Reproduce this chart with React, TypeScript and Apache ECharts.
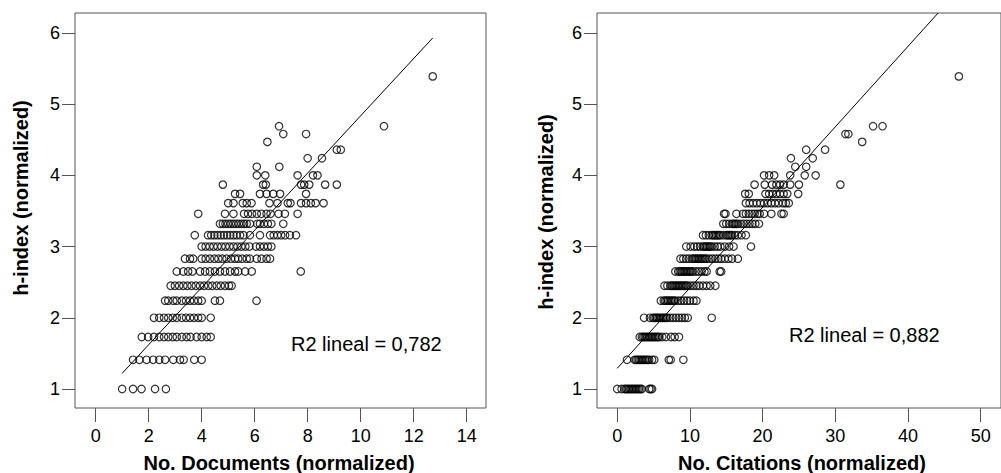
import React, { useEffect, useRef } from "react";
import * as echarts from "echarts";

// h-index (normalized) levels, shared by both panels
const hLevels = [1, 1.41, 1.73, 2, 2.24, 2.45, 2.65, 2.83, 3, 3.16, 3.32, 3.46, 3.61, 3.74, 3.87, 4, 4.12, 4.24, 4.36, 4.47, 4.58, 4.69, 5.39];

// No. Documents (normalized) of points at each h-index level (same order as hLevels)
const docsRows: number[][] = [
  [1.0, 1.41, 1.73, 2.24, 2.65],
  [1.41, 1.65, 1.92, 2.17, 2.4, 2.62, 2.93, 3.18, 3.32, 3.72, 4.0],
  [1.74, 1.98, 2.2, 2.4, 2.58, 2.74, 2.91, 3.06, 3.25, 3.43, 3.58, 3.81, 4.0, 4.19, 4.34],
  [2.2, 2.4, 2.58, 2.74, 2.91, 3.06, 3.25, 3.41, 3.56, 3.71, 3.87, 4.0, 4.34],
  [2.62, 2.74, 2.93, 3.06, 3.25, 3.41, 3.56, 3.71, 3.87, 4.0, 4.5, 4.69, 6.07],
  [2.83, 2.99, 3.15, 3.31, 3.46, 3.62, 3.78, 3.94, 4.09, 4.25, 4.4, 4.57, 4.72, 4.88, 5.03, 5.13],
  [3.06, 3.31, 3.49, 3.65, 3.94, 4.13, 4.31, 4.5, 4.69, 4.88, 5.07, 5.26, 5.38, 5.64, 5.89, 7.74],
  [3.37, 3.56, 3.68, 4.0, 4.15, 4.31, 4.48, 4.63, 4.78, 4.94, 5.11, 5.26, 5.38, 5.53, 5.7, 5.82, 6.08, 6.26, 6.45, 6.58],
  [4.0, 4.15, 4.3, 4.45, 4.6, 4.75, 4.9, 5.05, 5.2, 5.35, 5.5, 5.65, 5.8, 6.05, 6.2, 6.35, 6.5, 6.63],
  [3.74, 4.24, 4.36, 4.48, 4.6, 4.72, 4.84, 4.96, 5.08, 5.2, 5.32, 5.45, 5.58, 5.82, 6.2, 6.58, 6.72, 6.86, 7.0, 7.15, 7.33, 7.56],
  [4.69, 4.8, 4.9, 5.0, 5.1, 5.2, 5.3, 5.4, 5.5, 5.6, 5.7, 5.82, 6.1, 6.2, 6.35, 6.5, 6.63, 7.08],
  [3.87, 4.88, 5.2, 5.6, 5.75, 5.9, 6.08, 6.25, 6.45, 6.6, 6.9, 7.14, 7.62],
  [5.0, 5.2, 5.55, 5.7, 5.88, 6.56, 6.86, 7.25, 7.35, 7.75, 7.94, 8.12, 8.3, 8.6],
  [5.26, 5.45, 6.2, 6.45, 6.7, 6.96, 7.94],
  [4.8, 6.32, 6.42, 7.75, 7.87, 8.06, 8.66, 9.1],
  [6.08, 6.4, 7.62, 8.2, 8.37],
  [6.08, 6.93],
  [8.0, 8.54],
  [9.1, 9.25],
  [6.48],
  [7.08, 7.94],
  [6.92, 10.88],
  [12.72],
];

// No. Citations (normalized) of points at each h-index level
const citesRows: number[][] = [
  [0, 0.6, 1.0, 1.2, 1.4, 1.6, 1.8, 2.0, 2.2, 2.4, 2.6, 2.8, 3.0, 3.2, 3.4, 4.4, 4.6, 4.8],
  [1.35, 2.4, 2.6, 2.8, 3.0, 3.2, 3.4, 3.6, 3.8, 4.0, 4.2, 4.4, 4.8, 5.1, 7.1, 7.35, 9.1],
  [3.1, 3.4, 3.6, 3.8, 4.0, 4.2, 4.4, 4.6, 4.8, 5.0, 5.2, 5.4, 5.6, 5.8, 6.2, 6.7, 7.4, 7.9, 8.5],
  [3.7, 4.5, 4.9, 5.1, 5.3, 5.5, 5.7, 5.9, 6.1, 6.3, 6.5, 6.7, 6.9, 7.3, 7.7, 8.1, 8.5, 8.9, 9.3, 9.7, 13.0],
  [6.0, 6.4, 6.6, 6.8, 7.0, 7.2, 7.4, 7.6, 7.8, 8.0, 8.4, 8.8, 9.2, 9.6, 10.0, 10.5, 10.9],
  [6.5, 6.9, 7.3, 7.5, 7.7, 7.9, 8.1, 8.3, 8.5, 8.7, 8.9, 9.1, 9.3, 9.5, 9.7, 10.1, 10.5, 10.9, 11.3, 11.8, 12.3, 12.8, 13.5],
  [8.0, 8.4, 8.6, 8.8, 9.0, 9.2, 9.4, 9.6, 9.8, 10.0, 10.2, 10.4, 10.8, 11.2, 11.6, 12.0, 12.3, 14.1, 14.3],
  [8.7, 9.1, 9.5, 9.9, 10.3, 10.5, 10.7, 10.9, 11.1, 11.3, 11.5, 11.7, 11.9, 12.1, 12.3, 12.7, 13.1, 13.5, 13.9, 14.3, 14.8, 15.3, 15.8, 16.6],
  [9.5, 10.1, 10.6, 11.0, 11.4, 11.8, 12.0, 12.2, 12.4, 12.6, 12.8, 13.0, 13.4, 13.8, 14.2, 14.8, 15.4, 16.0, 18.4],
  [11.8, 12.2, 12.6, 13.0, 13.2, 13.4, 13.6, 13.8, 14.0, 14.2, 14.6, 15.0, 15.2, 15.4, 15.6, 15.8, 16.2, 16.6, 17.1, 17.7],
  [14.6, 15.0, 15.4, 15.8, 16.0, 16.2, 16.4, 16.6, 17.0, 17.4, 17.8, 18.2, 18.6, 19.0, 19.5],
  [14.7, 14.9, 16.4, 17.3, 17.7, 18.1, 18.5, 18.9, 19.3, 19.6, 20.2, 21.2, 22.6, 22.9],
  [17.7, 18.2, 18.7, 19.2, 19.7, 20.2, 20.7, 21.2, 21.7, 22.2, 22.8, 23.2, 23.6],
  [17.6, 18.1, 20.4, 20.9, 21.4, 21.9, 22.4, 22.9, 23.4, 24.9],
  [18.9, 20.3, 21.3, 21.9, 22.4, 22.9, 23.8, 25.0, 30.7],
  [20.2, 20.9, 21.6, 23.8, 25.8, 27.3],
  [24.5, 26.0],
  [23.9, 26.9],
  [26.0, 28.6],
  [33.7],
  [31.4, 31.8],
  [35.2, 36.5],
  [47.0],
];

// fitted linear regression lines (end points)
const docsFit = [[1.0, 1.22], [12.72, 5.93]];
const citesFit = [[0, 1.29], [44.15, 6.28]];

const docsTicks = [0, 2, 4, 6, 8, 10, 12, 14];
const citesTicks = [0, 10, 20, 30, 40, 50];
const hTicks = [1, 2, 3, 4, 5, 6];

const docsR2 = "R2 lineal = 0,782";
const citesR2 = "R2 lineal = 0,882";

const FONT = 'Arial, "Liberation Sans", sans-serif';
const FRAME = "#555";

function toPoints(rows: number[][]) {
  const pts: number[][] = [];
  rows.forEach((xs, i) => xs.forEach((x) => pts.push([x, hLevels[i]])));
  return pts;
}

export default function App() {
  const ref = useRef<HTMLDivElement>(null);
  useEffect(() => {
    document.body.style.margin = "0";
    if (!ref.current) return;
    const chart = echarts.init(ref.current, undefined, { renderer: "svg" });
    const xAxisBase = (min: number, max: number, ticks: number[], idx: number) => ({
      type: "value",
      gridIndex: idx,
      min,
      max,
      position: "bottom",
      splitLine: { show: false },
      axisLine: { show: false, onZero: false },
      axisTick: { show: true, inside: false, length: 14, customValues: ticks, lineStyle: { color: FRAME, width: 1 } },
      axisLabel: { customValues: ticks, margin: 19, fontSize: 18, color: "#000", fontFamily: FONT },
    });
    const yAxisBase = (idx: number) => ({
      type: "value",
      gridIndex: idx,
      min: 0.733,
      max: 6.28,
      position: "left",
      splitLine: { show: false },
      axisLine: { show: false, onZero: false },
      axisTick: { show: true, inside: false, length: 13, customValues: hTicks, lineStyle: { color: FRAME, width: 1 } },
      axisLabel: { customValues: hTicks, margin: 15, fontSize: 18, color: "#000", fontFamily: FONT },
    });
    const scatterStyle = {
      type: "scatter",
      symbol: "circle",
      symbolSize: 7.5,
      silent: true,
      itemStyle: { color: "rgba(0,0,0,0)", borderColor: "#000", borderWidth: 1.2 },
    };
    const lineStyle = {
      type: "line",
      symbol: "none",
      showSymbol: false,
      silent: true,
      lineStyle: { color: "#000", width: 1 },
    };
    const titleText = (text: string, x: number, y: number, rot = 0, bold = true) => ({
      type: "text",
      x,
      y,
      rotation: rot,
      silent: true,
      style: {
        text,
        fill: "#000",
        fontSize: 20,
        fontWeight: bold ? "bold" : "normal",
        fontFamily: FONT,
        textAlign: "center",
        textVerticalAlign: "middle",
        align: "center",
        verticalAlign: "middle",
      },
    });
    const r2Text = (text: string, x: number, y: number) => ({
      type: "text",
      x,
      y,
      silent: true,
      style: {
        text,
        fill: "#000",
        fontSize: 20,
        fontFamily: FONT,
        textAlign: "left",
        textVerticalAlign: "middle",
        align: "left",
        verticalAlign: "middle",
      },
    });
    chart.setOption({
      animation: false,
      grid: [
        { left: 75, top: 13, width: 411, height: 395, show: true, borderColor: FRAME, borderWidth: 1, backgroundColor: "transparent" },
        { left: 597, top: 13, width: 411, height: 395, show: true, borderColor: FRAME, borderWidth: 1, backgroundColor: "transparent" },
      ],
      xAxis: [xAxisBase(-0.78, 14.73, docsTicks, 0), xAxisBase(-2.78, 52.8, citesTicks, 1)],
      yAxis: [yAxisBase(0), yAxisBase(1)],
      series: [
        { ...scatterStyle, xAxisIndex: 0, yAxisIndex: 0, data: toPoints(docsRows) },
        { ...lineStyle, xAxisIndex: 0, yAxisIndex: 0, data: docsFit },
        { ...scatterStyle, xAxisIndex: 1, yAxisIndex: 1, data: toPoints(citesRows) },
        { ...lineStyle, xAxisIndex: 1, yAxisIndex: 1, data: citesFit },
      ],
      graphic: [
        titleText("No. Documents (normalized)", 279, 463),
        titleText("No. Citations (normalized)", 802, 463),
        titleText("h-index (normalized)", 21, 198, Math.PI / 2),
        titleText("h-index (normalized)", 546, 212, Math.PI / 2),
        r2Text(docsR2, 291, 344),
        r2Text(citesR2, 789, 335),
      ],
    });
    return () => chart.dispose();
  }, []);
  return <div ref={ref} style={{ width: 1001, height: 473 }} />;
}
